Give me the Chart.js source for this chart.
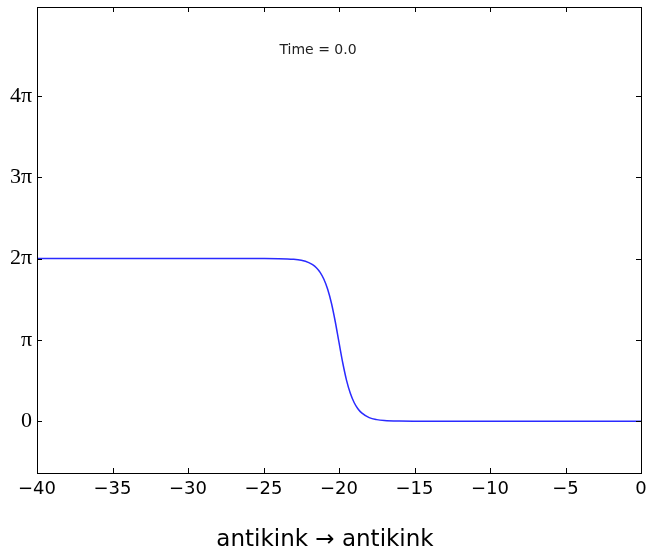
<!DOCTYPE html>
<html>
<head>
<meta charset="utf-8">
<script src="https://cdn.jsdelivr.net/npm/chart.js@4.4.1/dist/chart.umd.min.js"></script>
<style>
  html, body { margin: 0; padding: 0; background: #fff; }
  #wrap { width: 648px; height: 549px; }
</style>
</head>
<body>
<div id="wrap"><canvas id="kinkChart"></canvas></div>
<script>
// positions
const xs = [-40, -30, -25, -24, -23, -22.5, -22, -21.75, -21.5, -21.25, -21, -20.75, -20.5, -20.25,
            -20, -19.75, -19.5, -19.25, -19, -18.75, -18.5, -18, -17.5, -17, -16, -15, -10, 0];
// field phi at those positions
const phi = [6.283, 6.283, 6.282, 6.278, 6.253, 6.215, 6.128, 6.049, 5.930, 5.752, 5.486, 5.099, 4.556, 3.852,
             3.042, 2.249, 1.580, 1.078, 0.723, 0.482, 0.320, 0.140, 0.062, 0.027, 0.005, 0.001, 0, 0];
const xTicks = [-40, -35, -30, -25, -20, -15, -10, -5, 0];
const yTickVals = [0, Math.PI, 2 * Math.PI, 3 * Math.PI, 4 * Math.PI];
const yTickLabels = ["0", "π", "2π", "3π", "4π"];

const points = xs.map((x, i) => ({ x: x, y: phi[i] }));

// box + inward ticks on all four sides, time label and x label
const framePlugin = {
  id: "frame",
  afterDraw(chart) {
    const { ctx, chartArea: a, scales } = chart;
    ctx.save();
    ctx.strokeStyle = "#000";
    ctx.lineWidth = 1;
    ctx.beginPath();
    xTicks.forEach(v => {
      const px = Math.round(scales.x.getPixelForValue(v)) + 0.5;
      ctx.moveTo(px, a.bottom); ctx.lineTo(px, a.bottom - 5);
      ctx.moveTo(px, a.top); ctx.lineTo(px, a.top + 5);
    });
    yTickVals.forEach(v => {
      const py = Math.round(scales.y.getPixelForValue(v)) + 0.5;
      ctx.moveTo(a.left, py); ctx.lineTo(a.left + 5, py);
      ctx.moveTo(a.right, py); ctx.lineTo(a.right - 5, py);
    });
    ctx.stroke();
    ctx.strokeRect(Math.round(a.left) + 0.5, Math.round(a.top) + 0.5,
                   Math.round(a.right - a.left), Math.round(a.bottom - a.top));
    ctx.textAlign = "center";
    ctx.textBaseline = "alphabetic";
    ctx.fillStyle = "#222";
    ctx.font = "14px 'DejaVu Sans'";
    ctx.fillText("Time = 0.0", 318, 54);
    ctx.fillStyle = "#000";
    ctx.font = "23px 'DejaVu Sans'";
    ctx.fillText("antikink \u2192 antikink", 325, 546);
    ctx.restore();
  }
};

const ctx = document.getElementById("kinkChart").getContext("2d");
new Chart(ctx, {
  type: "scatter",
  data: {
    datasets: [{
      data: points,
      showLine: true,
      borderColor: "#2a2aff",
      borderWidth: 1.5,
      pointRadius: 0,
      cubicInterpolationMode: "monotone",
      fill: false
    }]
  },
  options: {
    responsive: true,
    maintainAspectRatio: false,
    animation: false,
    layout: { padding: { left: 0, top: 7, right: 7, bottom: 0 } },
    plugins: { legend: { display: false }, tooltip: { enabled: false } },
    scales: {
      x: {
        type: "linear",
        min: -40,
        max: 0,
        afterBuildTicks(scale) { scale.ticks = xTicks.map(v => ({ value: v })); },
        afterFit(scale) {
          scale.height = 76;
          scale.paddingLeft = 0;
          scale.paddingRight = 0;
        },
        grid: { display: false, drawTicks: false },
        border: { display: false },
        ticks: {
          padding: 6,
          color: "#000",
          font: { family: "'DejaVu Sans'", size: 18 },
          maxRotation: 0,
          callback: v => (v < 0 ? "\u2212" + Math.abs(v) : String(v))
        }
      },
      y: {
        type: "linear",
        min: -2,
        max: 16,
        afterBuildTicks(scale) { scale.ticks = yTickVals.map(v => ({ value: v })); },
        afterFit(scale) {
          scale.width = 37;
          scale.paddingTop = 0;
          scale.paddingBottom = 0;
        },
        grid: { display: false, drawTicks: false },
        border: { display: false },
        ticks: {
          padding: 5,
          color: "#000",
          font: { family: "'Liberation Serif'", size: 22 },
          callback: (v, i) => yTickLabels[i]
        }
      }
    }
  },
  plugins: [framePlugin]
});
</script>
</body>
</html>
